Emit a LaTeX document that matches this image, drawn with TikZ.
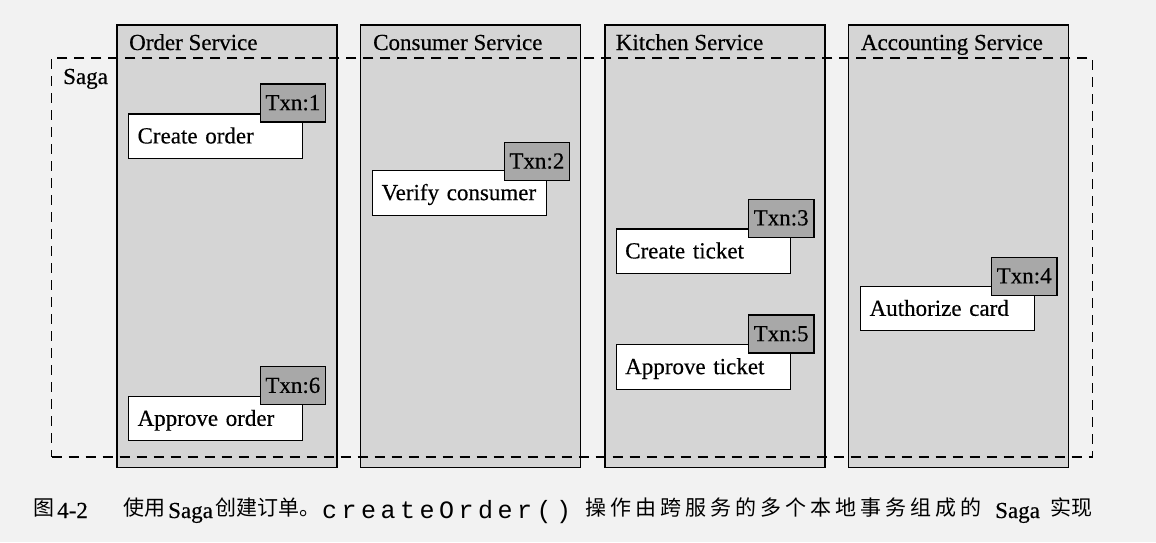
\documentclass[tikz,border=0pt]{standalone}
\usepackage{fontspec}
\setmainfont{Liberation Serif}
\setmonofont{Liberation Mono}
\newfontfamily\lblfont[FakeBold=0.4]{Liberation Serif}
\newfontfamily\cjk{Noto Sans CJK SC}
\newfontfamily\cjkwide[LetterSpace=19]{Noto Sans CJK SC}
\newfontfamily\monowide[LetterSpace=18]{Liberation Mono}
\definecolor{paper}{HTML}{F2F2F2}
\definecolor{svcfill}{HTML}{D5D5D5}
\definecolor{txnfill}{HTML}{A8A8A8}
\begin{document}
\begin{tikzpicture}[x=1pt,y=-1pt,
  lbl/.style={font=\lblfont\fontsize{23}{27}\selectfont},
  svc/.style={draw=black, line width=1.2pt, fill=svcfill, minimum width=220pt, minimum height=442.5pt, inner sep=0pt},
  hdr/.style={lbl, anchor=base west, inner sep=0pt},
  sagabox/.style={draw=black, line width=1.4pt, dash pattern=on 10pt off 7pt, minimum width=1040.8pt, minimum height=399pt, inner sep=0pt},
  wbox/.style={lbl, draw=black, line width=1.2pt, fill=white, anchor=north west, text width=156pt, align=left, inner xsep=9pt, inner ysep=0pt, minimum height=44.5pt, text height=15.5pt, text depth=1pt},
  txn/.style={lbl, draw=black, line width=1.2pt, fill=txnfill, anchor=north west, minimum width=65.5pt, minimum height=38pt, inner sep=0pt, text height=15.5pt, text depth=1pt},
  captext/.style={anchor=base west, inner sep=0pt},
  capcjk/.style={captext, font=\cjk\fontsize{21}{24}\selectfont},
  caplat/.style={captext, font=\lblfont\fontsize{23}{26}\selectfont}]
\useasboundingbox[fill=paper] (0,0) rectangle (1156,542);
% service columns
\node[svc] (osvc) at (227,246.25) {};
\node[svc] (csvc) at (470.7,246.25) {};
\node[svc] (ksvc) at (715,246.25) {};
\node[svc] (asvc) at (958.3,246.25) {};
\node[hdr] (oh) at (129,50) {Order Service};
\node[hdr] (ch) at (373,50) {Consumer Service};
\node[hdr] (kh) at (615.6,50) {Kitchen Service};
\node[hdr] (ah) at (860.7,50) {Accounting Service};
% saga region
\node[sagabox] (saga) at (572.1,257.5) {};
\node[hdr] (sagalbl) at (63,84) {Saga};
% local transactions
\node[wbox] (w1) at (128,113.3) {Create order};
\node[txn] (t1) at (259.5,83.3) {Txn:1};
\node[wbox] (w2) at (372,170) {Verify consumer};
\node[txn] (t2) at (503.5,141.7) {Txn:2};
\node[wbox] (w3) at (615.6,228.3) {Create ticket};
\node[txn] (t3) at (747.8,198.5) {Txn:3};
\node[wbox] (w4) at (860,285.7) {Authorize card};
\node[txn] (t4) at (990.8,256.5) {Txn:4};
\node[wbox] (w5) at (615.6,344) {Approve ticket};
\node[txn] (t5) at (747.8,314.3) {Txn:5};
\node[wbox] (w6) at (128,395.7) {Approve order};
\node[txn] (t6) at (259.5,366) {Txn:6};
% caption
\node[capcjk] (c1) at (33,515) {图};
\node[caplat] (c2) at (57,518) {4-2};
\node[capcjk] (c3) at (123,515) {使用};
\node[caplat] (c4) at (168,518) {Saga};
\node[capcjk] (c5) at (215,515) {创建订单。};
\node[captext, font=\monowide\fontsize{25}{28}\selectfont] (c6) at (322,518) {createOrder()};
\node[captext, font=\cjkwide\fontsize{21}{24}\selectfont] (c7) at (585,515) {操作由跨服务的多个本地事务组成的};
\node[caplat] (c8) at (995,518) {Saga};
\node[capcjk] (c9) at (1050,515) {实现};
\end{tikzpicture}
\end{document}
